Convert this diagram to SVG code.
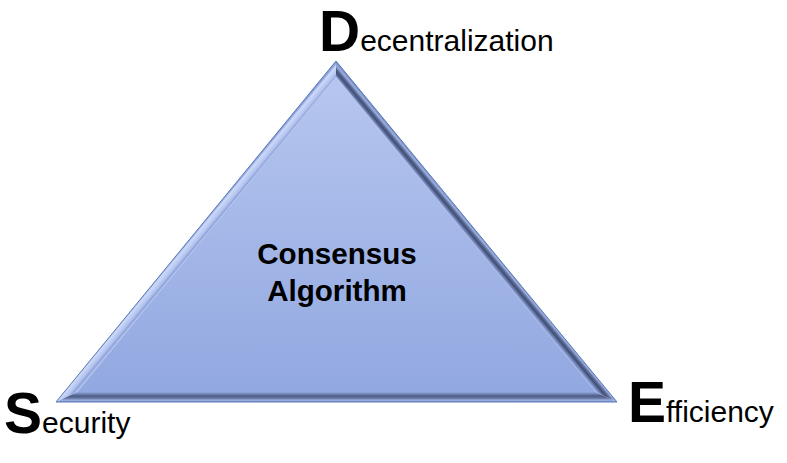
<svg xmlns="http://www.w3.org/2000/svg" width="787" height="463" viewBox="0 0 787 463">
  <style>
    .lbl { font-family: "Liberation Sans", Arial, sans-serif; fill: #000000; }
    .big { font-size: 57px; font-weight: bold; }
    .small { font-size: 30px; font-weight: normal; }
    .center { font-family: "Liberation Sans", Arial, sans-serif; font-size: 29.6px; font-weight: bold; fill: #000000; text-anchor: middle; }
  </style>
  <defs>
    <linearGradient id="face" x1="0" y1="76.7" x2="0" y2="392" gradientUnits="userSpaceOnUse">
      <stop offset="0" stop-color="#b6c6ef"/>
      <stop offset="1" stop-color="#92a8e0"/>
    </linearGradient>
    <linearGradient id="bevL" x1="196" y1="231.5" x2="203.7" y2="237.9" gradientUnits="userSpaceOnUse">
      <stop offset="0" stop-color="#8aa0d8"/>
      <stop offset="0.2" stop-color="#cdd9f8"/>
      <stop offset="0.65" stop-color="#b2c3ef"/>
      <stop offset="0.88" stop-color="#8ea3d8"/>
      <stop offset="1" stop-color="#a9bbea"/>
    </linearGradient>
    <linearGradient id="bevR" x1="476.5" y1="231.5" x2="468.8" y2="237.9" gradientUnits="userSpaceOnUse">
      <stop offset="0" stop-color="#7a90c8"/>
      <stop offset="0.18" stop-color="#9cb0e0"/>
      <stop offset="0.38" stop-color="#5c6d98"/>
      <stop offset="0.6" stop-color="#424e72"/>
      <stop offset="0.8" stop-color="#6a7db0"/>
      <stop offset="1" stop-color="#95a9dc"/>
    </linearGradient>
    <linearGradient id="bevB" x1="0" y1="402" x2="0" y2="392" gradientUnits="userSpaceOnUse">
      <stop offset="0" stop-color="#7a90c8"/>
      <stop offset="0.18" stop-color="#9cb0e0"/>
      <stop offset="0.38" stop-color="#6475a2"/>
      <stop offset="0.6" stop-color="#4d5c84"/>
      <stop offset="0.8" stop-color="#7185b8"/>
      <stop offset="1" stop-color="#93a8dc"/>
    </linearGradient>
  </defs>

  <g id="triangle">
    <polygon points="336,76.7 77.15,392 595.85,392" fill="url(#face)"/>
    <polygon points="56,402 336,61 336,76.7 77.15,392" fill="url(#bevL)"/>
    <polygon points="336,61 617,402 595.85,392 336,76.7" fill="url(#bevR)"/>
    <polygon points="56,402 617,402 595.85,392 77.15,392" fill="url(#bevB)"/>
    <polygon points="336,61 617,402 56,402" fill="none" stroke="#5a78b8" stroke-width="1"/>
    <g id="triangle-label">
      <text class="center" x="337" y="264">Consensus</text>
      <text class="center" x="337" y="301">Algorithm</text>
    </g>
  </g>

  <g id="decentralization">
    <text class="lbl" x="319" y="51"><tspan class="big">D</tspan><tspan class="small">ecentralization</tspan></text>
  </g>

  <g id="security">
    <text class="lbl" x="4" y="433"><tspan class="big">S</tspan><tspan class="small">ecurity</tspan></text>
  </g>

  <g id="efficiency">
    <text class="lbl" x="628" y="422"><tspan class="big">E</tspan><tspan class="small">fficiency</tspan></text>
  </g>

  <g id="connectors"/>
</svg>
